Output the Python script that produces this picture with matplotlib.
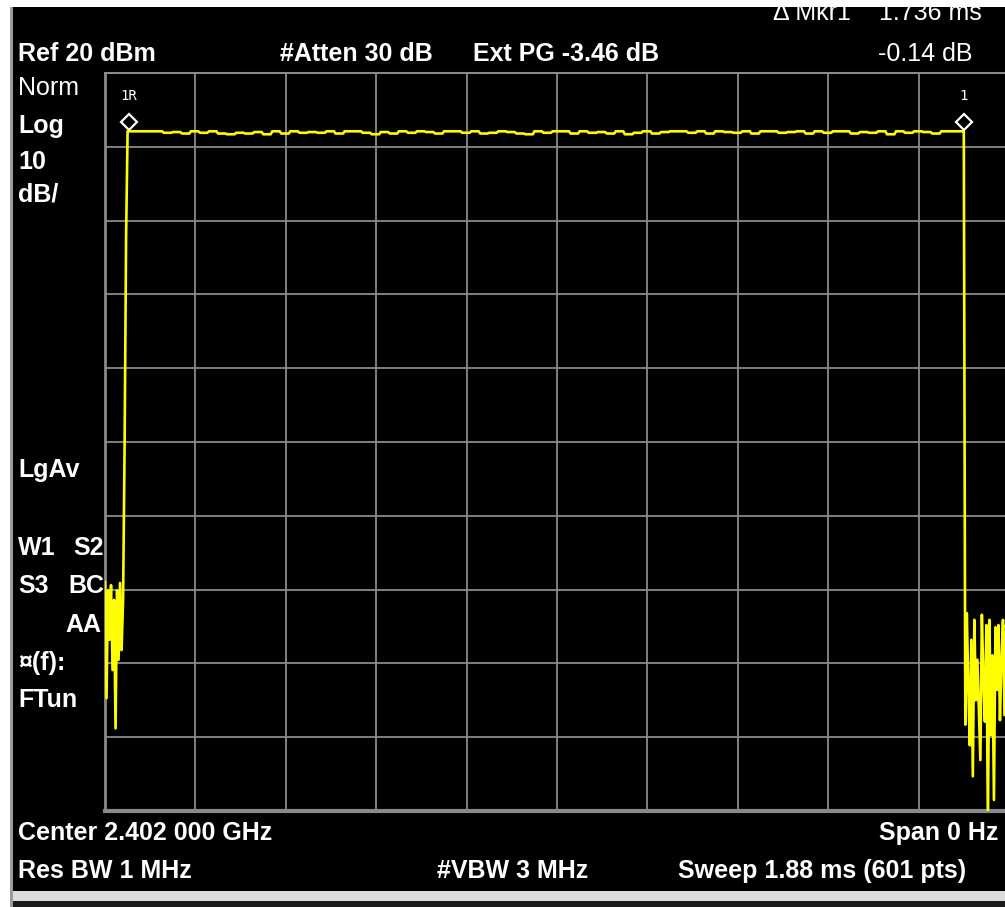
import numpy as np
import matplotlib
matplotlib.use("Agg")
import matplotlib.pyplot as plt
from matplotlib.patches import Rectangle
from matplotlib import transforms

# analyzer settings
ref_dbm = 20
db_per_div = 10
sweep_ms = 1.88
n_pts = 601

# trace readings (dBm), in sweep order
lead_noise_dbm = [-49.0, -64.7, -50.1, -56.8, -49.4, -60.9, -51.4,
                  -68.8, -50.1, -59.5, -49.1, -58.2, -51.4]
rise_dbm = [-30.7, -2.2]
top_dbm = [
    12.1, 12.1, 12.1, 12.1, 11.9, 12.0, 11.8, 12.1, 11.9, 12.1,
    11.8, 11.7, 11.9, 11.8, 12.0, 11.7, 12.1, 11.8, 12.1, 11.9,
    12.0, 11.9, 12.1, 11.8, 12.1, 12.1, 11.9, 11.7, 12.0, 11.8,
    12.1, 11.9, 12.1, 12.0, 11.8, 12.1, 12.1, 11.9, 12.1, 11.8,
    11.9, 12.1, 12.0, 11.8, 11.7, 12.1, 11.9, 12.1, 12.1, 11.8,
    12.1, 11.9, 12.0, 11.8, 12.1, 11.7, 11.9, 12.1, 11.8, 12.0,
    12.1, 12.1, 11.9, 12.1, 11.8, 12.1, 12.0, 11.9, 12.1, 11.8,
    12.1, 12.1, 11.9, 12.0, 12.1, 11.8, 12.1, 11.9, 12.1, 12.1,
    11.8, 12.0, 11.9, 12.1, 11.7, 12.1, 11.9, 12.1, 12.0, 11.8,
    12.1, 12.1, 12.1]
top_len = 556
tail_noise_dbm = [-68.3, -53.2, -63.3, -71.1, -56.8, -75.3, -54.1, -65.0,
                  -59.5, -66.3, -73.1, -53.4, -62.2, -67.9, -54.8, -82.0,
                  -54.1, -69.7, -58.9, -78.5, -55.1, -63.6, -54.8, -67.7,
                  -59.5, -54.1, -67.0, -54.8, -77.2, -58.2]

# markers (sample index) and labels
marker_idx = [16, 570]
marker_labels = ["1R", "1"]

level = np.concatenate([lead_noise_dbm, rise_dbm,
                        np.repeat(top_dbm, 6)[:top_len], tail_noise_dbm])[:n_pts]
t_ms = np.arange(len(level)) * sweep_ms / (n_pts - 1)

W, H = 1005, 907
fig = plt.figure(figsize=(W / 100, H / 100), dpi=100, facecolor="white")


def fx(x):
    return x / W


def fy(y):
    return 1 - y / H


def box(x0, y0, x1, y1, color, z=0):
    fig.add_artist(Rectangle((fx(x0), fy(y1)), fx(x1) - fx(x0), fy(y0) - fy(y1),
                             transform=fig.transFigure, facecolor=color,
                             edgecolor="none", zorder=z))


# screen panel
box(12, 7, W, 891, "black", z=-5)
box(12, 891, W, 901, "#dcdcdc", z=-5)
box(12, 901, W, H, "#1a1a1a", z=-5)
box(10, 7, 13, H, "#9a9a9a", z=-4)

ax = fig.add_axes([fx(105), fy(811), 904 / W, 738 / H])
ax.set_facecolor("black")
ax.set_xlim(0, sweep_ms)
ax.set_ylim(ref_dbm - 10 * db_per_div, ref_dbm)
ax.set_xticks(np.linspace(0, sweep_ms, 11))
ax.set_yticks(np.arange(ref_dbm - 10 * db_per_div, ref_dbm + 1, db_per_div))
ax.grid(True, color="#8a8a8a", lw=1.3)
ax.tick_params(length=0, labelbottom=False, labelleft=False)
for s in ax.spines.values():
    s.set_color("#8a8a8a")
    s.set_linewidth(1.5)
ax.spines["bottom"].set_linewidth(3)
ax.spines["left"].set_linewidth(2)
ax.set_axisbelow(True)

ax.plot(t_ms, level, color="#ffff00", lw=1.9, zorder=3)

mk_tr = transforms.offset_copy(ax.transData, fig=fig, y=9, units="dots")
for i, lab in zip(marker_idx, marker_labels):
    ax.plot(t_ms[i], level[i], marker="D", ms=8.5, mfc="none", mec="white",
            mew=1.6, transform=mk_tr, zorder=4)
    ax.annotate(lab, (t_ms[i], level[i]), xytext=(0, 35),
                textcoords="offset pixels", ha="center", va="center",
                color="white", fontsize=10, family="DejaVu Sans Mono")

fnt = ["Liberation Sans", "DejaVu Sans"]


def label(x, y, s, bold=True, ha="left"):
    fig.text(fx(x), fy(y), s, color="white", fontsize=18, ha=ha, va="baseline",
             family=fnt, fontweight="bold" if bold else "normal")


# header
label(18, 61, "Ref 20 dBm")
label(280, 61, "#Atten 30 dB")
label(473, 61, "Ext PG -3.46 dB")
label(972, 61, "-0.14 dB", bold=False, ha="right")
label(773, 20, "\u0394 Mkr1", bold=False)
label(982, 20, "1.736 ms", bold=False, ha="right")

# left annotations
label(18, 95, "Norm", bold=False)
label(18, 133, "Log")
label(18, 169, "10")
label(18, 202, "dB/")
label(18, 477, "LgAv")
label(18, 555, "W1")
label(73, 555, "S2")
label(18, 593, "S3")
label(68, 593, "BC")
label(101, 632, "AA", ha="right")
label(18, 670, "\u00a4(f):")
label(18, 707, "FTun")

# footer
label(18, 840, "Center 2.402 000 GHz")
label(998, 840, "Span 0 Hz", ha="right")
label(18, 878, "Res BW 1 MHz")
label(437, 878, "#VBW 3 MHz")
label(678, 878, "Sweep 1.88 ms (601 pts)")

# white frame over the cut-off top line
box(0, 0, W, 7, "white", z=20)
box(0, 0, 10, H, "white", z=20)

fig.savefig("out.png", dpi=100, facecolor=fig.get_facecolor())
